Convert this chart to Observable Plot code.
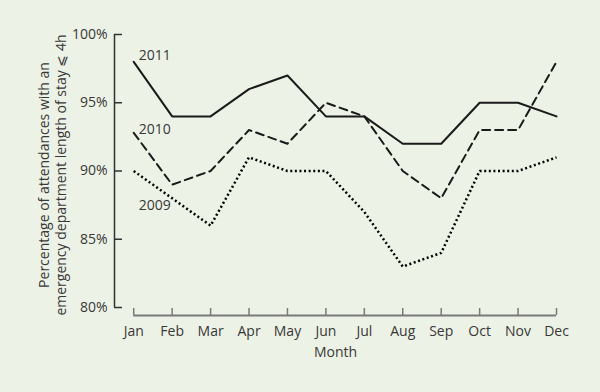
<!DOCTYPE html>
<html><head><meta charset="utf-8">
<script src="https://cdn.jsdelivr.net/npm/d3@7"></script>
<script src="https://cdn.jsdelivr.net/npm/@observablehq/plot@0.6"></script>
<style>body{margin:0;background:#edf2e6}</style>
</head><body><div id="chart"></div>
<script>
const months = ["Jan","Feb","Mar","Apr","May","Jun","Jul","Aug","Sep","Oct","Nov","Dec"];
const y2011 = [98,94,94,96,97,94,94,92,92,95,95,94];
const y2010 = [92.8,89,90,93,92,95,94,90,88,93,93,98];
const y2009 = [90,88,86,91,90,90,87,83,84,90,90,91];
const yTicks = [80,85,90,95,100];
const yLabel = "Percentage of attendances with an\nemergency department length of stay \u2A7D 4h";

const toRows = (vals, year) => vals.map((v, i) => ({year, i, v}));
const r2011 = toRows(y2011, "2011");
const r2010 = toRows(y2010, "2010");
const r2009 = toRows(y2009, "2009");
const ink = "#1a1a1a";

const chart = Plot.plot({
  width: 600, height: 392,
  marginLeft: 114, marginRight: 44, marginTop: 34, marginBottom: 85,
  style: {fontFamily: "'Open Sans', sans-serif", fontSize: "14px", background: "#edf2e6", color: "#383838"},
  x: {type: "linear", domain: [-0.5, 11]},
  y: {domain: [80, 100]},
  marks: [
    Plot.ruleX([-0.5], {y1: 80, y2: 100, stroke: "#333", strokeWidth: 1.5}),
    Plot.ruleY([80], {x1: 0, x2: 11, dy: 8, stroke: "#7a7a7a", strokeWidth: 2}),
    Plot.axisY({ticks: yTicks, tickFormat: d => d + "%", tickSize: -8, tickPadding: 15, stroke: "#333", strokeWidth: 1.5, label: null}),
    Plot.axisX({ticks: d3.range(12), tickFormat: i => months[i], tickSize: -7, tickPadding: 18, dy: 8, stroke: "#7a7a7a", strokeWidth: 1.5, label: null}),
    Plot.line(r2011, {x: "i", y: "v", stroke: ink, strokeWidth: 2}),
    Plot.line(r2010, {x: "i", y: "v", stroke: ink, strokeWidth: 2, strokeDasharray: "8,5"}),
    Plot.line(r2009, {x: "i", y: "v", stroke: "#000", strokeWidth: 2.5, strokeLinecap: "butt", strokeLinejoin: "miter", strokeDasharray: "2,2.6"}),
    Plot.text(r2011.slice(0,1), {x: "i", y: "v", text: "year", textAnchor: "start", dx: 5, dy: -6, fill: "#383838"}),
    Plot.text(r2010.slice(0,1), {x: "i", y: "v", text: "year", textAnchor: "start", dx: 5, dy: -3, fill: "#383838"}),
    Plot.text(r2009.slice(0,1), {x: "i", y: "v", text: "year", textAnchor: "start", dx: 5, dy: 35, fill: "#383838"}),
    Plot.text(["Month"], {frameAnchor: "bottom", dy: 49, fill: "#383838"}),
    Plot.text([yLabel], {frameAnchor: "left", textAnchor: "middle", rotate: -90, dx: -62, dy: 4, lineHeight: 1.2, fill: "#383838"})
  ]
});
document.getElementById("chart").appendChild(chart);
</script>
</body></html>
